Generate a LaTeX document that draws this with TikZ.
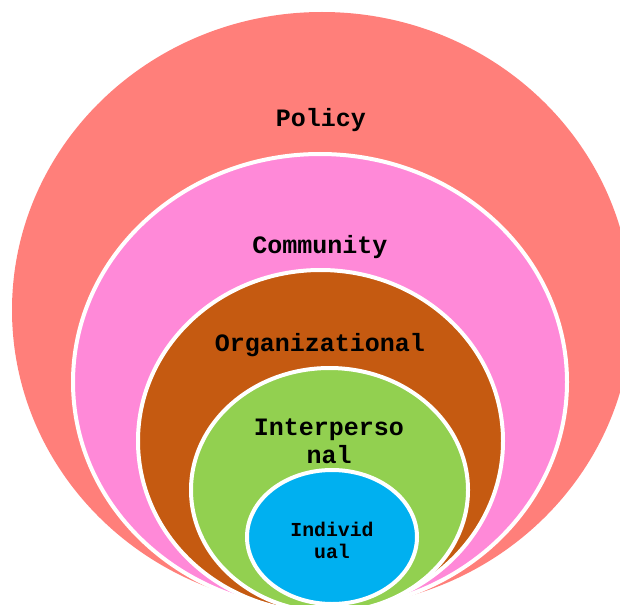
\documentclass[tikz,border=0pt]{standalone}
\usepackage{fontspec}
\setmonofont{Liberation Mono}
\usetikzlibrary{shapes.geometric}
\definecolor{policyc}{HTML}{FF7F7A}
\definecolor{communityc}{HTML}{FF89D8}
\definecolor{orgc}{HTML}{C55A11}
\definecolor{interc}{HTML}{92D050}
\definecolor{indivc}{HTML}{00B0F0}
\tikzset{
  ring/.style={ellipse, inner sep=0pt, draw=white, line width=4pt},
  lbl/.style={font=\ttfamily\bfseries\fontsize{25}{28}\selectfont, align=center, text=black, inner sep=0pt},
  smalllbl/.style={font=\ttfamily\bfseries\fontsize{19.8}{22}\selectfont, align=center, text=black, inner sep=0pt}
}
\begin{document}
\begin{tikzpicture}[x=1pt,y=-1pt]
\useasboundingbox (0,0) rectangle (620,604);
\clip (0,0) rectangle (620,604);
% nested levels, outermost first
\node[ellipse, inner sep=0pt, fill=policyc, minimum width=620pt, minimum height=596pt] (policy) at (322,310) {};
\node[ring, fill=communityc, minimum width=494pt, minimum height=456pt] (community) at (320,382) {};
\node[ring, fill=orgc, minimum width=365pt, minimum height=342pt] (org) at (320.5,441) {};
\node[ring, fill=interc, minimum width=277pt, minimum height=244pt] (inter) at (329.5,490) {};
\node[ring, fill=indivc, minimum width=170pt, minimum height=134pt] (indiv) at (332,537) {};
% labels
\node[lbl] (tpolicy) at (321,120) {Policy};
\node[lbl] (tcommunity) at (320,247) {Community};
\node[lbl] (torg) at (320,345) {Organizational};
\node[lbl] (tinter) at (329,441) {Interperso\\nal};
\node[smalllbl] (tindiv) at (332,540) {Individ\\ual};
\end{tikzpicture}
\end{document}
